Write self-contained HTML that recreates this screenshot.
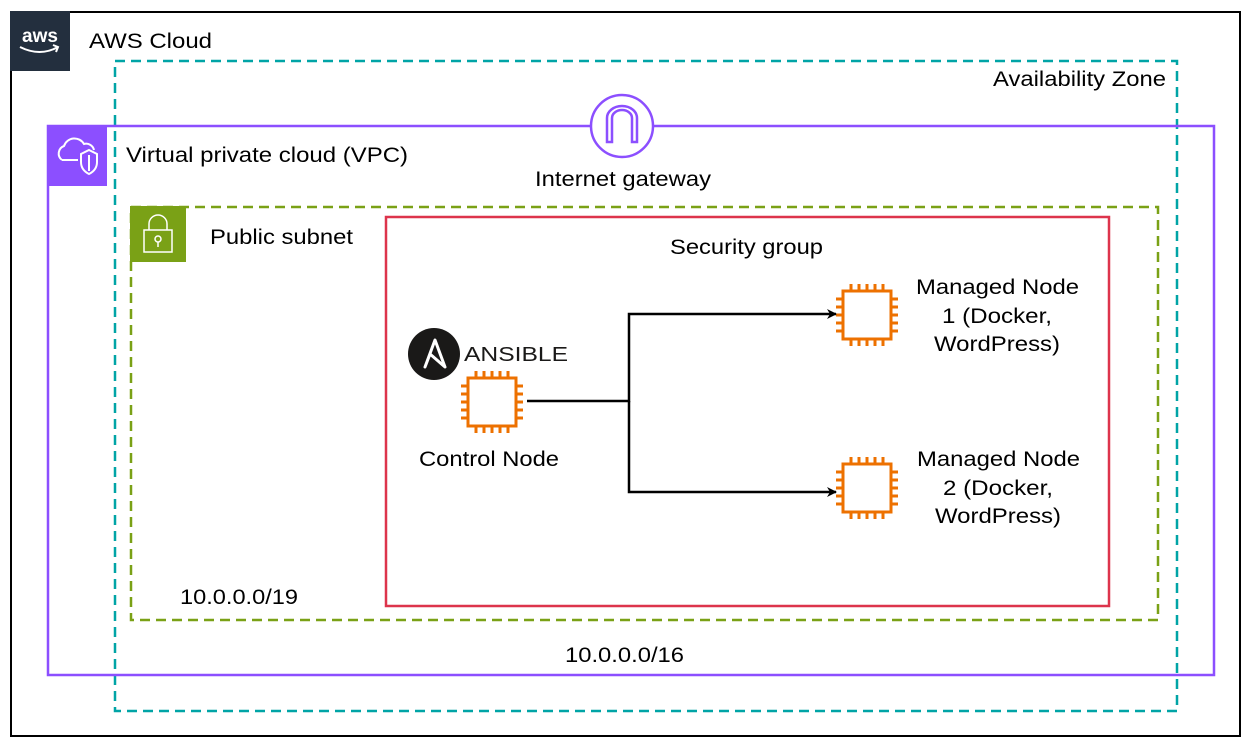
<!DOCTYPE html>
<html><head><meta charset="utf-8"><style>
body{margin:0;background:#fff;width:1255px;height:746px;overflow:hidden}
text{font-family:"Liberation Sans",Arial,sans-serif;font-size:21px;fill:#000}
</style></head><body>
<svg width="1255" height="746" viewBox="0 0 1255 746">
<defs>
<marker id="ar" markerWidth="10" markerHeight="10" refX="9" refY="5" orient="auto" markerUnits="userSpaceOnUse">
<path d="M0,0 L10,5 L0,10 L3,5 z" fill="#000"/></marker>
<g id="chip" stroke="#ED7100" fill="none" stroke-width="3">
<rect x="9" y="9" width="48" height="48"/>
<path d="M17,2v7M25,2v7M33,2v7M41,2v7M49,2v7M17,57v7M25,57v7M33,57v7M41,57v7M49,57v7M2,17h7M2,25h7M2,33h7M2,41h7M2,49h7M57,17h7M57,25h7M57,33h7M57,41h7M57,49h7"/>
</g>
</defs>
<rect x="11" y="12" width="1229" height="724" fill="none" stroke="#000" stroke-width="2"/>
<rect x="10" y="11" width="60" height="60" fill="#232F3E"/>
<text x="40" y="42" text-anchor="middle" style="font-size:19px;fill:#fff;font-weight:bold">aws</text>
<path d="M20,47 Q40,57 58,47 M53,45 l5,2 -2,5" stroke="#fff" stroke-width="2" fill="none"/>
<text x="89" y="48" textLength="123" lengthAdjust="spacingAndGlyphs">AWS Cloud</text>
<rect x="115" y="61" width="1062" height="650" fill="none" stroke="#00A4A6" stroke-width="2.5" stroke-dasharray="10,6"/>
<text x="993" y="86" textLength="173" lengthAdjust="spacingAndGlyphs">Availability Zone</text>
<rect x="48" y="126" width="1166" height="549" fill="none" stroke="#8C4FFF" stroke-width="2.5"/>
<rect x="47" y="125" width="60" height="61" fill="#8C4FFF"/>
<path d="M62,160 a8,8 0 0 1 2,-14 a11,11 0 0 1 20,-2 a8,8 0 0 1 10,6" stroke="#fff" stroke-width="2" fill="none"/>
<path d="M62,160 h16" stroke="#fff" stroke-width="2"/>
<path d="M89,150 l8,4 v8 q0,8 -8,12 q-8,-4 -8,-12 v-8 z M89,155 v16" stroke="#fff" stroke-width="2" fill="none"/>
<text x="126" y="162" textLength="282" lengthAdjust="spacingAndGlyphs">Virtual private cloud (VPC)</text>
<circle cx="622" cy="126" r="31" fill="#fff" stroke="#8C4FFF" stroke-width="2.5"/>
<path d="M607,142 v-24 a15,12 0 0 1 30,0 v24 h-5 v-24 a10,8 0 0 0 -20,0 v24 z" fill="none" stroke="#8C4FFF" stroke-width="2.5"/>
<text x="535" y="186" textLength="176" lengthAdjust="spacingAndGlyphs">Internet gateway</text>
<rect x="131" y="207" width="1027" height="413" fill="none" stroke="#7AA116" stroke-width="2.5" stroke-dasharray="10,6"/>
<rect x="130" y="206" width="56" height="56" fill="#7AA116"/>
<rect x="144" y="230" width="28" height="22" fill="none" stroke="#fff" stroke-width="1.5"/>
<path d="M149,230 v-6 a9,9 0 0 1 18,0 v6" fill="none" stroke="#fff" stroke-width="1.5"/>
<circle cx="158" cy="239" r="3" fill="none" stroke="#fff" stroke-width="1.5"/><path d="M158,242v5" stroke="#fff" stroke-width="1.5"/>
<text x="210" y="244" textLength="143" lengthAdjust="spacingAndGlyphs">Public subnet</text>
<text x="180" y="604" textLength="118" lengthAdjust="spacingAndGlyphs">10.0.0.0/19</text>
<text x="565" y="662" textLength="119" lengthAdjust="spacingAndGlyphs">10.0.0.0/16</text>
<rect x="386" y="217" width="723" height="389" fill="none" stroke="#DD344C" stroke-width="2.5"/>
<text x="670" y="254" textLength="153" lengthAdjust="spacingAndGlyphs">Security group</text>
<circle cx="434" cy="354" r="26" fill="#1A1918"/>
<path d="M425,367 L435,340 L445,367 L430,354 Z" fill="none" stroke="#fff" stroke-width="3" stroke-linejoin="round"/>
<text x="464" y="361" textLength="104" lengthAdjust="spacingAndGlyphs" style="font-size:20px;fill:#1A1918">ANSIBLE</text>
<use href="#chip" x="459" y="369"/>
<text x="419" y="466" textLength="140" lengthAdjust="spacingAndGlyphs">Control Node</text>
<use href="#chip" x="834" y="282"/>
<use href="#chip" x="834" y="455"/>
<text x="916" y="294" textLength="163" lengthAdjust="spacingAndGlyphs">Managed Node</text>
<text x="942" y="323" textLength="110" lengthAdjust="spacingAndGlyphs">1 (Docker,</text>
<text x="934" y="351" textLength="126" lengthAdjust="spacingAndGlyphs">WordPress)</text>
<text x="917" y="466" textLength="163" lengthAdjust="spacingAndGlyphs">Managed Node</text>
<text x="943" y="495" textLength="110" lengthAdjust="spacingAndGlyphs">2 (Docker,</text>
<text x="935" y="523" textLength="126" lengthAdjust="spacingAndGlyphs">WordPress)</text>
<path d="M527,401 H629 V314 H836" fill="none" stroke="#000" stroke-width="2.5" marker-end="url(#ar)"/>
<path d="M629,401 V492 H836" fill="none" stroke="#000" stroke-width="2.5" marker-end="url(#ar)"/>
</svg>
</body></html>
